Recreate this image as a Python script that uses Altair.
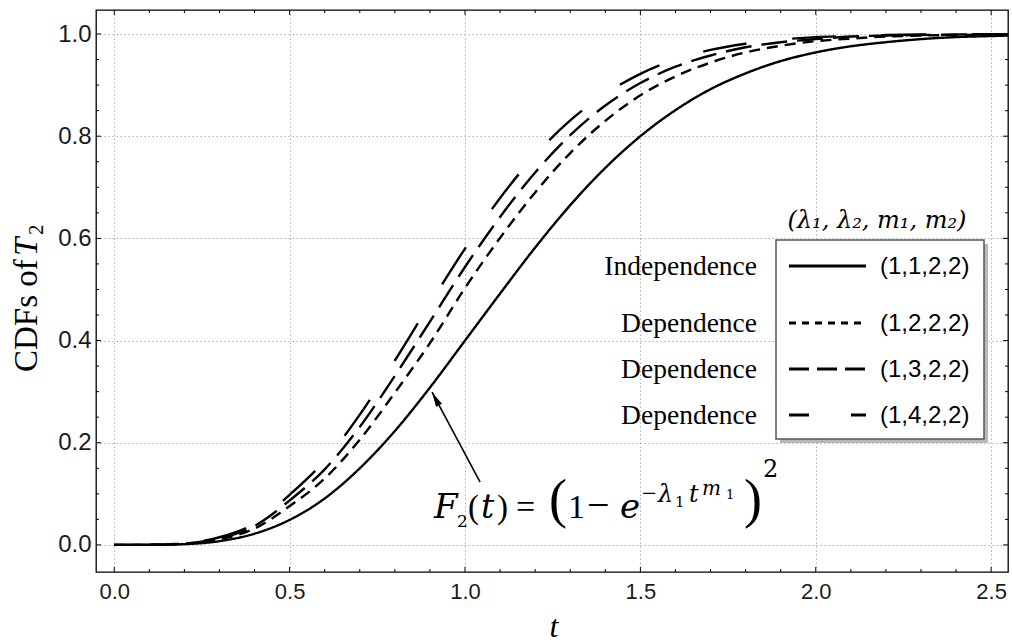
import altair as alt
import pandas as pd

# ---------------- data ----------------
t_values = [0.0, 0.1, 0.2, 0.3, 0.4, 0.5, 0.6, 0.7, 0.8, 0.9, 1.0, 1.1, 1.2, 1.3,
            1.4, 1.5, 1.6, 1.7, 1.8, 1.9, 2.0, 2.1, 2.2, 2.3, 2.4, 2.5, 2.55]
cdf_indep = [0, 0.0001, 0.0015, 0.0074, 0.022, 0.049, 0.091, 0.150, 0.223, 0.308, 0.400,
             0.492, 0.582, 0.665, 0.738, 0.800, 0.851, 0.892, 0.923, 0.947, 0.964, 0.976,
             0.984, 0.990, 0.994, 0.996, 0.997]
cdf_dep2 = [0, 0.00015, 0.0023, 0.011, 0.032, 0.076, 0.130, 0.206, 0.298, 0.395, 0.503,
            0.601, 0.690, 0.767, 0.830, 0.880, 0.917, 0.944, 0.964, 0.977, 0.986, 0.991,
            0.995, 0.997, 0.998, 0.999, 0.9993]
cdf_dep3 = [0, 0.0002, 0.0027, 0.013, 0.037, 0.087, 0.148, 0.231, 0.331, 0.437, 0.544,
            0.642, 0.729, 0.802, 0.860, 0.904, 0.936, 0.958, 0.974, 0.984, 0.990, 0.995,
            0.997, 0.998, 0.999, 0.9995, 0.9996]
cdf_dep4 = [0, 0.0002, 0.0031, 0.015, 0.042, 0.098, 0.165, 0.255, 0.361, 0.472, 0.580,
            0.679, 0.763, 0.831, 0.883, 0.922, 0.950, 0.969, 0.981, 0.989, 0.994, 0.996,
            0.998, 0.999, 0.9994, 0.9997, 0.9998]

series_names = ["(1,1,2,2)", "(1,2,2,2)", "(1,3,2,2)", "(1,4,2,2)"]
row_labels = ["Independence", "Dependence", "Dependence", "Dependence"]
legend_header = "(\u03bb\u2081, \u03bb\u2082, m\u2081, m\u2082)"

x_major = [0.0, 0.5, 1.0, 1.5, 2.0, 2.5]
x_minor = [0.1, 0.2, 0.3, 0.4, 0.6, 0.7, 0.8, 0.9, 1.1, 1.2, 1.3, 1.4, 1.6, 1.7, 1.8,
           1.9, 2.1, 2.2, 2.3, 2.4]
y_major = [0.0, 0.2, 0.4, 0.6, 0.8, 1.0]
y_minor = [0.05, 0.1, 0.15, 0.25, 0.3, 0.35, 0.45, 0.5, 0.55, 0.65, 0.7, 0.75, 0.85,
           0.9, 0.95]

arrow_t = [1.043, 0.906]
arrow_y = [0.123, 0.299]

# ---------------- style / layout ----------------
W, H = 912, 562
X_DOMAIN = [-0.052, 2.548]
Y_DOMAIN = [-0.053, 1.047]
curve_dashes = [[1, 0], [11, 7], [26, 10], [44, 46]]
legend_dashes = [[1, 0], [7, 6], [20, 8], [20, 42]]
SERIF = "Liberation Serif"
MATH = "DejaVu Serif"
SANS = "Liberation Sans"

xs = alt.Scale(domain=X_DOMAIN, nice=False, zero=False)
ys = alt.Scale(domain=Y_DOMAIN, nice=False, zero=False)
X_AXIS = alt.Axis(values=x_major, format=".1f", title=None, labelFontSize=22)
Y_AXIS = alt.Axis(values=y_major, format=".1f", title=None, labelFontSize=24)


def X(field):
    return alt.X(field, scale=xs, axis=X_AXIS)


def Y(field):
    return alt.Y(field, scale=ys, axis=Y_AXIS)


rows = []
for name, vals in zip(series_names, [cdf_indep, cdf_dep2, cdf_dep3, cdf_dep4]):
    for t, v in zip(t_values, vals):
        rows.append({"t": t, "F": v, "series": name})
curves_df = pd.DataFrame(rows)

curves = alt.Chart(curves_df).mark_line(
    color="black", strokeWidth=2.4, interpolate="monotone", clip=True, strokeCap="butt"
).encode(
    x=X("t:Q"),
    y=Y("F:Q"),
    strokeDash=alt.StrokeDash("series:N", scale=alt.Scale(domain=series_names,
                                                          range=curve_dashes), legend=None),
    detail="series:N",
)

layers = [curves]


# inward frame ticks
def xticks(vals, length):
    df = pd.DataFrame({"t": vals})
    bottom = alt.Chart(df).mark_rule(color="black", strokeWidth=1).encode(
        x=X("t:Q"), y=alt.value(H), y2=alt.value(H - length))
    top = alt.Chart(df).mark_rule(color="black", strokeWidth=1).encode(
        x=X("t:Q"), y=alt.value(0), y2=alt.value(length))
    return [bottom, top]


def yticks(vals, length):
    df = pd.DataFrame({"F": vals})
    left = alt.Chart(df).mark_rule(color="black", strokeWidth=1).encode(
        y=Y("F:Q"), x=alt.value(0), x2=alt.value(length))
    right = alt.Chart(df).mark_rule(color="black", strokeWidth=1).encode(
        y=Y("F:Q"), x=alt.value(W), x2=alt.value(W - length))
    return [left, right]


layers += xticks(x_major, 5) + xticks(x_minor, 3) + yticks(y_major, 5) + yticks(y_minor, 3)

# arrow annotation
arrow_df = pd.DataFrame({"t": arrow_t, "F": arrow_y, "o": [0, 1]})
layers.append(alt.Chart(arrow_df).mark_line(color="black", strokeWidth=1.6).encode(
    x=X("t:Q"), y=Y("F:Q"), order="o:Q"))
head_df = pd.DataFrame({"t": arrow_t[1:], "F": arrow_y[1:]})
layers.append(alt.Chart(head_df).mark_point(
    shape="M0,0 L0.45,2 L-0.45,2 Z", size=225, filled=True, color="black", opacity=1,
    angle=332).encode(x=X("t:Q"), y=Y("F:Q")))


def txt(s, x, y, size, font=SERIF, style="normal", align="left", angle=0, color="black"):
    df = pd.DataFrame({"label": [s]})
    kw = dict(font=font, fontSize=size, fontStyle=style, align=align,
              baseline="alphabetic", color=color)
    if angle:
        kw["angle"] = angle
    return alt.Chart(df).mark_text(**kw).encode(
        text="label:N", x=alt.value(x), y=alt.value(y))


# formula pieces (pixel layout relative to plot area)
BL = 508
layers += [
    txt("F", 338, BL, 34, font=MATH, style="italic"),
    txt("2", 361, BL + 9, 17, font=MATH),
    txt("(", 372, BL, 33, font=SERIF),
    txt("t", 385, BL, 33, font=MATH, style="italic"),
    txt(")", 401, BL, 33, font=SERIF),
    txt("=", 420, BL, 34, font=SERIF),
    txt("(", 453, BL - 1, 54, font=SERIF),
    txt("1", 472, BL, 34, font=SERIF),
    txt("\u2212", 491, BL, 40, font=SERIF),
    txt("e", 524, BL, 34, font=MATH, style="italic"),
    txt("\u2212", 546, BL - 16, 26, font=SERIF),
    txt("\u03bb", 562, BL - 16, 24, font=MATH, style="italic"),
    txt("1", 579, BL - 11, 15, font=MATH),
    txt("t", 593, BL - 16, 24, font=MATH, style="italic"),
    txt("m", 606, BL - 23, 20, font=MATH, style="italic"),
    txt("1", 630, BL - 19, 13, font=MATH),
    txt(")", 648, BL - 1, 54, font=SERIF),
    txt("2", 667, BL - 41, 24, font=MATH),
]

# axis titles
layers += [
    txt("CDFs of", -59, 362, 33, angle=270),
    txt("T", -59, 246, 33, style="italic", angle=270),
    txt("2", -53, 225, 21, angle=270),
    txt("t", 458, 627, 32, style="italic", align="center"),
]

# custom legend box
BOX = dict(x=680, x2=888, y=230, y2=429)
layers.append(alt.Chart(pd.DataFrame({"a": [0]})).mark_rect(color="#9a9a9a", opacity=0.7).encode(
    x=alt.value(BOX["x"] + 4), x2=alt.value(BOX["x2"] + 4),
    y=alt.value(BOX["y"] + 4), y2=alt.value(BOX["y2"] + 4)))
layers.append(alt.Chart(pd.DataFrame({"a": [0]})).mark_rect(
    fill="white", stroke="#555555", strokeWidth=1.5).encode(
    x=alt.value(BOX["x"]), x2=alt.value(BOX["x2"]),
    y=alt.value(BOX["y"]), y2=alt.value(BOX["y2"])))
layers.append(txt(legend_header, 781, 218, 24, font=MATH, style="italic", align="center"))

row_center = [256, 313, 359, 405]
for name, lab, dash, yc in zip(series_names, row_labels, legend_dashes, row_center):
    layers.append(alt.Chart(pd.DataFrame({"a": [0]})).mark_rule(
        color="black", strokeWidth=2.8, strokeDash=dash, strokeCap="butt").encode(
        x=alt.value(693), x2=alt.value(770), y=alt.value(yc), y2=alt.value(yc)))
    layers.append(txt(lab, 661, yc + 9, 27.5, align="right"))
    layers.append(txt(name, 784, yc + 8, 24, font=SANS))

chart = alt.layer(*layers).properties(
    width=W, height=H,
    autosize=alt.AutoSizeParams(type="none"),
    padding={"left": 96, "top": 10, "right": 4, "bottom": 71},
    background="white",
).configure_view(
    stroke="black", strokeWidth=1.3
).configure_axis(
    grid=True, ticks=False, domain=False, labelFont=SANS, labelColor="#1a1a1a",
    gridColor="#b0b0b0", gridDash=[1.5, 2.5], gridWidth=1,
).configure_axisX(
    labelFontSize=22, labelPadding=9
).configure_axisY(
    labelFontSize=24, labelPadding=5
)

chart.save("out.html", embed_options={"renderer": "svg", "actions": False})
